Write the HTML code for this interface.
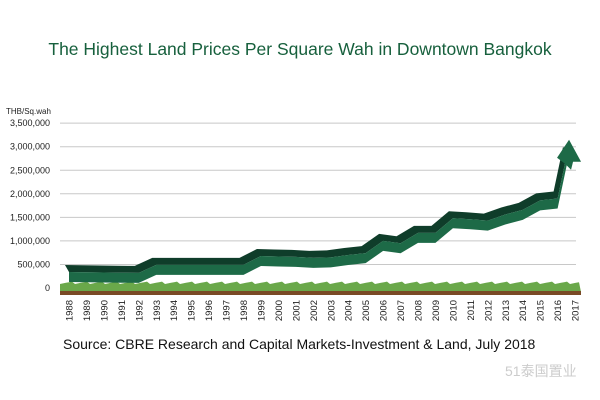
<!DOCTYPE html>
<html><head><meta charset="utf-8">
<style>
body{margin:0;background:#fff;}
svg{display:block;font-family:"Liberation Sans","Noto Sans CJK SC",sans-serif;}
</style></head>
<body>
<svg width="600" height="400" viewBox="0 0 600 400">
<text x="300" y="55" text-anchor="middle" font-size="17.5" fill="#17603d">The Highest Land Prices Per Square Wah in Downtown Bangkok</text>
<text x="6" y="114" font-size="8" fill="#222">THB/Sq.wah</text>
<g id="gridG"></g>
<g id="groundG"></g>
<g id="ribbonG"></g>
<g id="xlabelsG"></g>
<text x="63" y="349" font-size="14" fill="#111">Source: CBRE Research and Capital Markets-Investment &amp; Land, July 2018</text>
<text x="505" y="376" font-size="14" fill="#ccc">51泰国置业</text>
</svg>
<script>
const years=[1988,1989,1990,1991,1992,1993,1994,1995,1996,1997,1998,1999,2000,2001,2002,2003,2004,2005,2006,2007,2008,2009,2010,2011,2012,2013,2014,2015,2016,2017];
const prices=[340000,335000,330000,325000,320000,490000,490000,490000,490000,490000,490000,680000,670000,660000,640000,650000,700000,740000,1000000,950000,1170000,1170000,1480000,1460000,1430000,1560000,1660000,1860000,1900000,2850000];
const yTicks=[0,500000,1000000,1500000,2000000,2500000,3000000,3500000];
const yTickLabels=["0","500,000","1,000,000","1,500,000","2,000,000","2,500,000","3,000,000","3,500,000"];
(function(){
const NS="http://www.w3.org/2000/svg";
function yS(v){return 288-v/500000*23.55;}
function xS(i){return 69+i*17.45;}
function mk(t,a,p){const el=document.createElementNS(NS,t);for(const k in a)el.setAttribute(k,a[k]);p.appendChild(el);return el;}
const gridG=document.getElementById('gridG');
yTicks.forEach((v,i)=>{
  if(i>0){const l=mk('line',{x1:60,x2:576,y1:yS(v),y2:yS(v),stroke:'#c8c8c8','stroke-width':1},gridG);
  
  }
  const t=mk('text',{x:50,y:yS(v)+3,'text-anchor':'end','font-size':9,fill:'#222'},gridG);
  t.textContent=yTickLabels[i];
  
  
});
const groundG=document.getElementById('groundG');
let grass='M60,292 L60,285 ';
for(let xx=60;xx<=581;xx+=3){grass+='L'+xx+','+(284-((xx*7)%5)*0.6)+' ';}
grass+='L581,292 Z';
const gp=mk('path',{d:grass,fill:'#6aa84a'},groundG);


const br=mk('rect',{x:60,y:291,width:521,height:4,fill:'#7a4a26'},groundG);


const xl=document.getElementById('xlabelsG');
years.forEach((yr,i)=>{
  const t=mk('text',{x:0,y:0,'font-size':9.5,fill:'#222','text-anchor':'end',transform:'translate('+(xS(i)+3.5)+',300) rotate(-90)'},xl);
  t.textContent=yr;
  
  
});
const rb=document.getElementById('ribbonG');
const n=prices.length;
const pts=prices.map((v,i)=>[xS(i),yS(v)]);
pts[n-1][0]-=8;
const H=10,dx=-4,dy=-7;
const topPts=pts.map(p=>(p[0]+dx)+','+(p[1]+dy)).join(' ')+' '+pts.slice().reverse().map(p=>p[0]+','+p[1]).join(' ');
const tp=mk('polygon',{points:topPts,fill:'#0f3d2a'},rb);


const frontPts=pts.map(p=>p[0]+','+p[1]).join(' ')+' '+pts.slice().reverse().map(p=>p[0]+','+(p[1]+H)).join(' ');
const fp=mk('polygon',{points:frontPts,fill:'#1d6a47'},rb);


const ep=pts[n-1];
const ah=mk('polygon',{points:(ep[0]-10)+','+(ep[1]+4)+' '+(ep[0]+2)+','+(ep[1]-14)+' '+(ep[0]+14)+','+(ep[1]+8)+' '+(ep[0]+6)+','+(ep[1]+8)+' '+(ep[0]+4)+','+(ep[1]+16)+' '+(ep[0]-2)+','+(ep[1]+10),fill:'#1d6a47'},rb);


})();
</script>
</body></html>
